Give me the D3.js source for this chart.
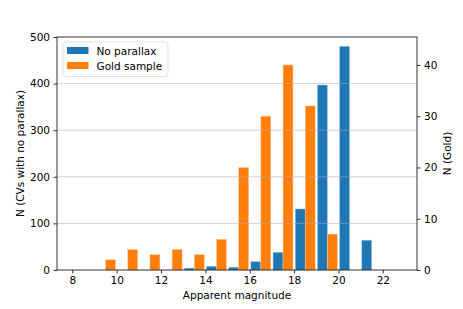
<!DOCTYPE html>
<html>
<head>
<meta charset="utf-8">
<script src="https://cdn.jsdelivr.net/npm/d3@7"></script>
<style>
  body { margin: 0; background: #fff; }
  text { font-family: "DejaVu Sans", sans-serif; fill: #000; }
</style>
</head>
<body>
<div id="chart"></div>
<script>
// histogram bins (left edge of each 1-mag bin)
var binStarts = [8, 9, 10, 11, 12, 13, 14, 15, 16, 17, 18, 19, 20, 21, 22];
var noParallax = [0, 0, 0, 0, 0, 4, 8, 6, 18, 38, 131, 397, 480, 64, 0];
var goldSample = [0, 2, 4, 3, 4, 3, 6, 20, 30, 40, 32, 7, 0, 0, 0];
var xTicks = [8, 10, 12, 14, 16, 18, 20, 22];
var leftTicks = [0, 100, 200, 300, 400, 500];
var rightTicks = [0, 10, 20, 30, 40];

var W = 463, H = 309;
var margin = {top: 37, right: 46, bottom: 39, left: 57},
    width = W - margin.left - margin.right,
    height = H - margin.top - margin.bottom;

var svg = d3.select("#chart").append("svg")
    .attr("width", W)
    .attr("height", H);

var g = svg.append("g")
    .attr("transform", "translate(" + margin.left + "," + margin.top + ")");

// scales
var x = d3.scaleLinear().domain([7.31, 23.54]).range([0, width]);
var yL = d3.scaleLinear().domain([0, 500]).range([height, 0]);
var yR = d3.scaleLinear().domain([0, 45.45]).range([height, 0]);

var binW = 1, rw = 0.45;

// blue bars (left half of each bin)
g.selectAll(".blue")
    .data(binStarts)
    .enter().append("rect")
    .attr("class", "blue")
    .attr("x", function(d) { return x(d + 0.5 - rw); })
    .attr("width", function(d) { return x(d + 0.5) - x(d + 0.5 - rw); })
    .attr("y", function(d, i) { return yL(noParallax[i]); })
    .attr("height", function(d, i) { return height - yL(noParallax[i]); })
    .style("fill", "#1f77b4")
    .style("stroke", "#a6c8e0")
    .style("stroke-width", 0.5);

// orange bars on the twin axis
g.selectAll(".orange")
    .data(binStarts)
    .enter().append("rect")
    .attr("class", "orange")
    .attr("x", function(d) { return x(d + 0.5); })
    .attr("width", function(d) { return x(d + 0.5 + rw) - x(d + 0.5); })
    .attr("y", function(d, i) { return yR(goldSample[i]); })
    .attr("height", function(d, i) { return height - yR(goldSample[i]); })
    .style("fill", "#ff7f0e")
    .style("stroke", "#ffcc9e")
    .style("stroke-width", 0.5);

// grid (drawn over the bars, like the twin axes grid)
g.selectAll(".grid")
    .data(leftTicks.filter(function(t) { return t > 0 && t < 500; }))
    .enter().append("line")
    .attr("x1", 0).attr("x2", width)
    .attr("y1", function(d) { return yL(d); })
    .attr("y2", function(d) { return yL(d); })
    .style("stroke", "#b0b0b0")
    .style("stroke-opacity", 0.7)
    .style("stroke-width", 0.8);

// axes
var fs = "10.5px";
var xAxis = g.append("g")
    .attr("transform", "translate(0," + height + ")")
    .call(d3.axisBottom(x).tickValues(xTicks).tickSize(3.5).tickPadding(3.5));
var lAxis = g.append("g")
    .call(d3.axisLeft(yL).tickValues(leftTicks).tickSize(3.5).tickPadding(3.5));
var rAxis = g.append("g")
    .attr("transform", "translate(" + width + ",0)")
    .call(d3.axisRight(yR).tickValues(rightTicks).tickSize(3.5).tickPadding(3.5));

[xAxis, lAxis, rAxis].forEach(function(a) {
  a.selectAll("text").style("font-size", fs).style("font-family", "DejaVu Sans");
  a.selectAll("line").style("stroke", "#000").style("stroke-width", 0.8);
  a.select(".domain").remove();
});

// frame
g.append("rect")
    .attr("width", width).attr("height", height)
    .style("fill", "none")
    .style("stroke", "#000")
    .style("stroke-width", 0.8);

// axis labels
svg.append("text")
    .attr("x", margin.left + width / 2)
    .attr("y", 299)
    .attr("text-anchor", "middle")
    .style("font-size", fs)
    .text("Apparent magnitude");

svg.append("text")
    .attr("transform", "translate(24," + (margin.top + height / 2) + ") rotate(-90)")
    .attr("text-anchor", "middle")
    .style("font-size", fs)
    .text("N (CVs with no parallax)");

svg.append("text")
    .attr("transform", "translate(451," + (margin.top + height / 2) + ") rotate(-90)")
    .attr("text-anchor", "middle")
    .style("font-size", fs)
    .text("N (Gold)");

// legend
var legend = g.append("g").attr("transform", "translate(6,5)");
legend.append("rect")
    .attr("width", 105).attr("height", 34.5)
    .attr("rx", 2.5)
    .style("fill", "#fff")
    .style("fill-opacity", 0.8)
    .style("stroke", "#d9d9d9")
    .style("stroke-width", 0.8);

var items = [{name: "No parallax", color: "#1f77b4"}, {name: "Gold sample", color: "#ff7f0e"}];
var li = legend.selectAll(".item")
    .data(items)
    .enter().append("g")
    .attr("transform", function(d, i) { return "translate(4," + (5 + i * 15) + ")"; });
li.append("rect")
    .attr("width", 21.5).attr("height", 7)
    .style("fill", function(d) { return d.color; });
li.append("text")
    .attr("x", 29.5).attr("y", 8)
    .style("font-size", fs)
    .text(function(d) { return d.name; });
</script>
</body>
</html>
